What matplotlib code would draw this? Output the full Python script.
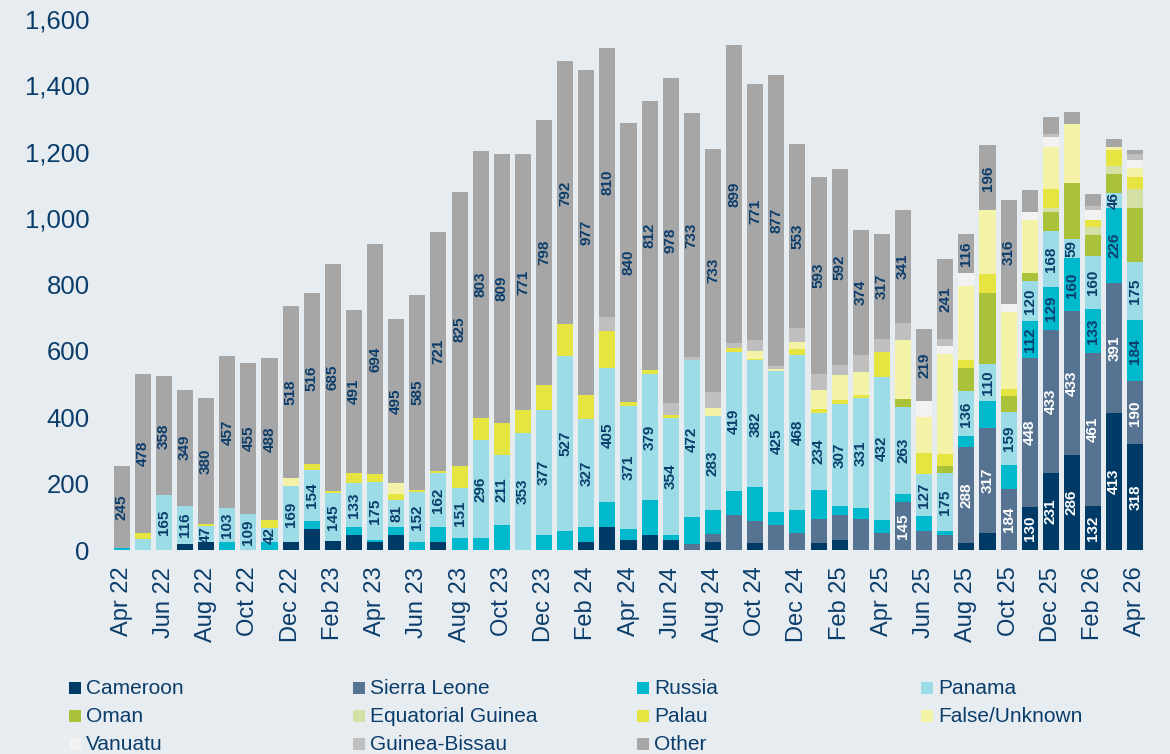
import numpy as np
import matplotlib
matplotlib.use("Agg")
import matplotlib.pyplot as plt
from matplotlib.patches import Rectangle

plt.rcParams['font.family'] = ['Liberation Sans', 'DejaVu Sans']

# months Apr 22 .. Apr 26
months = ["Apr 22", "May 22", "Jun 22", "Jul 22", "Aug 22", "Sep 22", "Oct 22", "Nov 22", "Dec 22",
          "Jan 23", "Feb 23", "Mar 23", "Apr 23", "May 23", "Jun 23", "Jul 23", "Aug 23", "Sep 23",
          "Oct 23", "Nov 23", "Dec 23", "Jan 24", "Feb 24", "Mar 24", "Apr 24", "May 24", "Jun 24",
          "Jul 24", "Aug 24", "Sep 24", "Oct 24", "Nov 24", "Dec 24", "Jan 25", "Feb 25", "Mar 25",
          "Apr 25", "May 25", "Jun 25", "Jul 25", "Aug 25", "Sep 25", "Oct 25", "Nov 25", "Dec 25",
          "Jan 26", "Feb 26", "Mar 26", "Apr 26"]

cameroon = [0, 0, 0, 18, 24, 0, 0, 0, 24, 63, 27, 45, 24, 45, 0, 24, 0, 0, 0, 0, 0, 0, 24, 69, 30,
            45, 30, 0, 24, 0, 21, 0, 0, 21, 30, 0, 0, 0, 0, 0, 21, 51, 0, 130, 231, 286, 132, 413, 318]
sierra_leone = [0, 0, 0, 0, 0, 0, 0, 0, 0, 0, 0, 0, 0, 0, 0, 0, 0, 0, 0, 0, 0, 0, 0, 0, 0,
                0, 0, 18, 24, 105, 66, 75, 51, 72, 75, 93, 51, 145, 57, 45, 288, 317, 184, 448, 433, 433, 461, 391, 190]
russia = [7, 0, 0, 0, 0, 24, 0, 24, 0, 24, 0, 24, 6, 24, 24, 45, 36, 36, 75, 0, 45, 57, 45, 75, 33,
          105, 15, 81, 72, 72, 102, 39, 69, 87, 27, 33, 39, 24, 45, 12, 33, 81, 72, 112, 129, 160, 133, 226, 184]
panama = [0, 32, 165, 116, 47, 103, 109, 42, 169, 154, 145, 133, 175, 81, 152, 162, 151, 296, 211, 353, 377, 527, 327, 405, 371,
          379, 354, 472, 283, 419, 382, 425, 468, 234, 307, 331, 432, 263, 127, 175, 136, 110, 159, 120, 168, 59, 160, 46, 175]
oman = [0] * 37 + [24, 0, 21, 69, 214, 48, 24, 57, 169, 63, 57, 163]
eq_guinea = [0] * 44 + [12, 0, 24, 24, 57]
palau = [0, 19, 0, 0, 6, 0, 0, 24, 0, 18, 6, 30, 24, 18, 6, 6, 66, 66, 98, 69, 75, 96, 72, 111, 12,
         12, 9, 0, 0, 12, 6, 0, 18, 12, 12, 9, 75, 0, 63, 36, 24, 60, 21, 0, 57, 0, 21, 48, 36]
false_unknown = [0, 0, 0, 0, 0, 0, 0, 0, 24, 0, 0, 0, 0, 33, 0, 0, 0, 0, 0, 0, 0, 0, 0, 0, 0,
                 0, 0, 0, 24, 0, 24, 6, 21, 57, 75, 69, 0, 177, 108, 301, 225, 190, 232, 160, 126, 178, 0, 9, 27]
vanuatu = [0] * 38 + [48, 24, 40, 0, 24, 24, 30, 0, 30, 0, 24]
guinea_bissau = [0] * 23 + [42, 0, 0, 36, 12, 48, 15, 33, 9, 42, 48, 30, 54, 39, 51, 0, 21, 0, 0, 0, 0, 9, 0, 12, 0, 18]
other = [245, 478, 358, 349, 380, 457, 455, 488, 518, 516, 685, 491, 694, 495, 585, 721, 825, 803, 809, 771, 798, 792, 977, 810, 840,
         812, 978, 733, 733, 899, 771, 877, 553, 593, 592, 374, 317, 341, 219, 241, 116, 196, 316, 66, 54, 36, 36, 24, 12]

series = [
    ("Cameroon", cameroon, "#003A66"),
    ("Sierra Leone", sierra_leone, "#567492"),
    ("Russia", russia, "#00B9CC"),
    ("Panama", panama, "#9CDCE6"),
    ("Oman", oman, "#A9C23A"),
    ("Equatorial Guinea", eq_guinea, "#D5E0A4"),
    ("Palau", palau, "#E5E440"),
    ("False/Unknown", false_unknown, "#F3F2A7"),
    ("Vanuatu", vanuatu, "#F2F2F2"),
    ("Guinea-Bissau", guinea_bissau, "#BFBFBF"),
    ("Other", other, "#A6A6A6"),
]

# which series get value labels, and the minimum size to label
label_min = {"Cameroon": 110, "Sierra Leone": 110, "Russia": 110, "Panama": 40, "Other": 110}
white_text = {"Cameroon", "Sierra Leone"}

navy = "#0B3D6B"
bg = "#E7ECF1"

W, H = 1170, 754
fig = plt.figure(figsize=(W / 100, H / 100), dpi=100, facecolor=bg)
ax = fig.add_axes([109 / W, (H - 550) / H, (1148 - 109) / W, (550 - 19) / H])
ax.set_facecolor(bg)

x = np.arange(len(months))
bottom = np.zeros(len(months))
for name, vals, col in series:
    vals = np.array(vals, dtype=float)
    ax.bar(x, vals, width=0.76, bottom=bottom, color=col, linewidth=0)
    if name in label_min:
        for xi, b, v in zip(x, bottom, vals):
            if v >= label_min[name]:
                ax.text(xi, b + v / 2, f"{int(v)}", rotation=90, ha="center", va="center",
                        fontsize=11, fontweight="bold",
                        color="white" if name in white_text else navy)
    bottom += vals

ax.set_xlim(-0.6, len(months) - 0.4)
ax.set_ylim(0, 1600)
ax.set_yticks(range(0, 1601, 200))
ax.set_yticklabels([f"{v:,}" for v in range(0, 1601, 200)], fontsize=18.5, color=navy)
ax.set_xticks(x[::2])
ax.set_xticklabels(months[::2], rotation=90, fontsize=17, color=navy)
ax.tick_params(axis="y", length=0, pad=14)
ax.tick_params(axis="x", length=0, pad=12)
for s in ax.spines.values():
    s.set_visible(False)

# legend, 4 columns, row-major
for i, (name, vals, col) in enumerate(series):
    r, c = divmod(i, 4)
    px = 69 + c * 284
    py = 688 + r * 28
    fig.patches.append(Rectangle((px / W, (H - py - 6) / H), 12 / W, 12 / H,
                                 transform=fig.transFigure, facecolor=col, edgecolor="none"))
    fig.text((px + 17) / W, (H - py) / H, name, fontsize=15, color=navy, va="center", ha="left")

fig.savefig("out.png", dpi=100, facecolor=bg)
